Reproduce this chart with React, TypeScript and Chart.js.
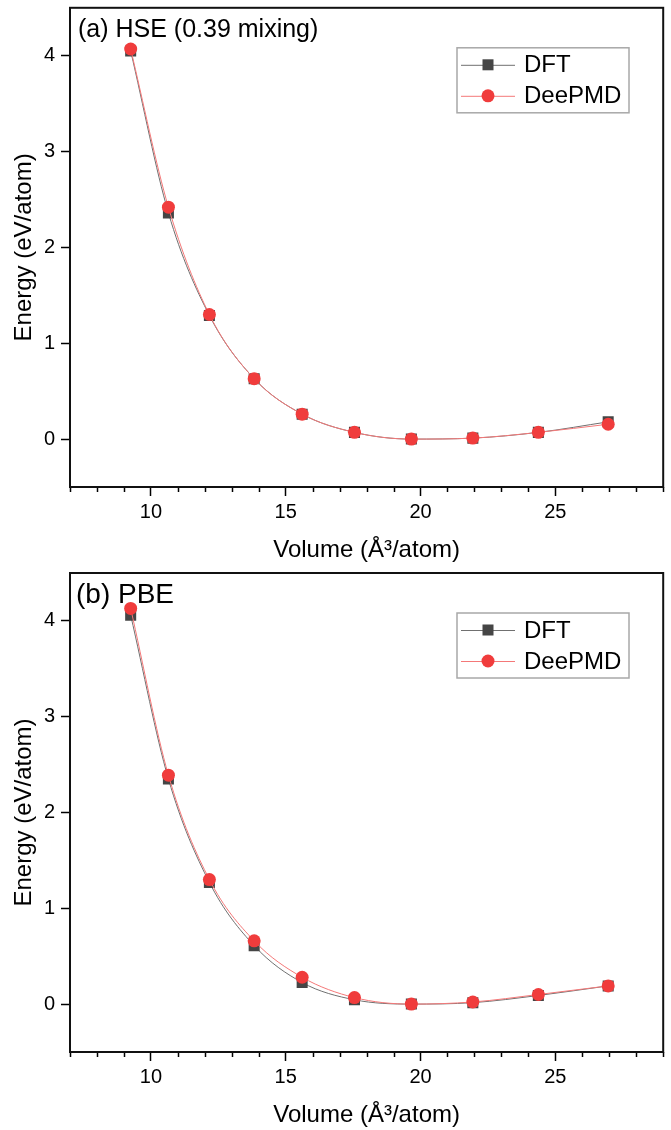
import React, { useEffect, useRef } from "react";
import { Chart, registerables } from "chart.js";

Chart.register(...registerables);

// ---- data ----
const volumes = [9.25, 10.65, 12.17, 13.83, 15.61, 17.55, 19.66, 21.94, 24.37, 26.96];
const hseDFT = [4.05, 2.36, 1.29, 0.63, 0.26, 0.07, 0.0, 0.01, 0.07, 0.18];
const hseDeePMD = [4.07, 2.42, 1.3, 0.63, 0.26, 0.07, 0.0, 0.01, 0.07, 0.155];
const pbeDFT = [4.06, 2.35, 1.27, 0.61, 0.225, 0.045, 0.0, 0.015, 0.09, 0.19];
const pbeDeePMD = [4.13, 2.39, 1.3, 0.66, 0.28, 0.068, 0.0, 0.022, 0.1, 0.19];
const xMajorTicks = [10, 15, 20, 25];
const xMinorTicks = [7, 8, 9, 11, 12, 13, 14, 16, 17, 18, 19, 21, 22, 23, 24, 26, 27, 28, 29];
const yTicks = [0, 1, 2, 3, 4];
const panelTitles = ["(a) HSE (0.39 mixing)", "(b) PBE"];
const seriesNames = ["DFT", "DeePMD"];
const xTitle = "Volume (Å³/atom)";
const yTitle = "Energy (eV/atom)";

const FONT = "'Liberation Sans', Arial, Helvetica, sans-serif";
const DFT_POINT = "#454545";
const DFT_LINE = "#707070";
const DP_POINT = "#f03c3c";
const DP_LINE = "#f47878";

type PanelProps = {
  title: string;
  dft: number[];
  deep: number[];
  padTop: number;
  titleSize: number;
  titleX: number;
  titleBaseline: number;
};

function Panel({ title, dft, deep, padTop, titleSize, titleX, titleBaseline }: PanelProps) {
  const ref = useRef<HTMLCanvasElement | null>(null);

  useEffect(() => {
    if (!ref.current) return;
    const decor = {
      id: "decor",
      afterDraw(chart: any) {
        const { ctx, chartArea: ca, scales } = chart;
        ctx.save();
        // minor x ticks
        ctx.strokeStyle = "#000";
        ctx.lineWidth = 1.5;
        for (const v of xMinorTicks) {
          const px = Math.round(scales.x.getPixelForValue(v)) + 0.5;
          ctx.beginPath();
          ctx.moveTo(px, ca.bottom);
          ctx.lineTo(px, ca.bottom + 5);
          ctx.stroke();
        }
        // frame
        ctx.strokeStyle = "#111";
        ctx.lineWidth = 2;
        ctx.strokeRect(ca.left, ca.top, ca.right - ca.left, ca.bottom - ca.top);

        // panel title
        ctx.fillStyle = "#000";
        ctx.font = `${titleSize}px ${FONT}`;
        ctx.textBaseline = "alphabetic";
        ctx.textAlign = "left";
        ctx.fillText(title, titleX, titleBaseline);

        // legend
        const lx = ca.left + 387;
        const ly = ca.top + 40;
        ctx.strokeStyle = "#a8a8a8";
        ctx.lineWidth = 1.5;
        ctx.strokeRect(lx, ly, 172, 65);
        const rows = [ly + 17, ly + 48];
        ctx.font = `24px ${FONT}`;
        ctx.textBaseline = "middle";
        rows.forEach((ry, i) => {
          ctx.strokeStyle = i === 0 ? DFT_LINE : DP_LINE;
          ctx.lineWidth = 1;
          ctx.beginPath();
          ctx.moveTo(lx + 4, ry + 0.5);
          ctx.lineTo(lx + 58, ry + 0.5);
          ctx.stroke();
          if (i === 0) {
            ctx.fillStyle = DFT_POINT;
            ctx.fillRect(lx + 31 - 5.5, ry - 5.5, 11, 11);
          } else {
            ctx.fillStyle = DP_POINT;
            ctx.beginPath();
            ctx.arc(lx + 31, ry, 6.5, 0, Math.PI * 2);
            ctx.fill();
          }
          ctx.fillStyle = "#000";
          ctx.fillText(seriesNames[i], lx + 67, ry + 1);
        });
        ctx.restore();
      },
    };

    const chart = new Chart(ref.current, {
      type: "line",
      data: {
        datasets: [
          {
            label: seriesNames[0],
            data: volumes.map((v, i) => ({ x: v, y: dft[i] })),
            borderColor: DFT_LINE,
            borderWidth: 1,
            backgroundColor: DFT_POINT,
            pointStyle: "rect",
            pointRadius: 7.8,
            pointBorderWidth: 0,
            cubicInterpolationMode: "monotone",
            order: 1,
          },
          {
            label: seriesNames[1],
            data: volumes.map((v, i) => ({ x: v, y: deep[i] })),
            borderColor: DP_LINE,
            borderWidth: 1,
            backgroundColor: DP_POINT,
            pointStyle: "circle",
            pointRadius: 6.5,
            pointBorderWidth: 0,
            cubicInterpolationMode: "monotone",
            order: 0,
          },
        ],
      },
      options: {
        responsive: false,
        animation: false,
        devicePixelRatio: 1,
        layout: { padding: { left: 0, right: 5, top: padTop, bottom: 0 } },
        plugins: { legend: { display: false }, tooltip: { enabled: false } },
        scales: {
          x: {
            type: "linear",
            min: 7,
            max: 29,
            afterBuildTicks: (s: any) => {
              s.ticks = xMajorTicks.map((v) => ({ value: v }));
            },
            afterFit: (s: any) => {
              s.height = 78;
              s.paddingLeft = 0;
              s.paddingRight = 0;
              s.paddingTop = 0;
              s.paddingBottom = 0;
            },
            grid: {
              display: true,
              drawOnChartArea: false,
              drawTicks: true,
              tickLength: 9,
              tickWidth: 1.5,
              tickColor: "#000",
            },
            border: { display: false },
            ticks: {
              color: "#000",
              font: { family: FONT, size: 20 },
              padding: 4,
              maxRotation: 0,
              autoSkip: false,
            },
            title: {
              display: true,
              text: xTitle,
              color: "#000",
              font: { family: FONT, size: 24 },
              padding: { top: 0, bottom: 0 },
            },
          },
          y: {
            type: "linear",
            min: -0.5,
            max: 4.5,
            afterBuildTicks: (s: any) => {
              s.ticks = yTicks.map((v) => ({ value: v }));
            },
            afterFit: (s: any) => {
              s.width = 70;
              s.paddingLeft = 0;
              s.paddingRight = 0;
              s.paddingTop = 0;
              s.paddingBottom = 0;
            },
            grid: {
              display: true,
              drawOnChartArea: false,
              drawTicks: true,
              tickLength: 9,
              tickWidth: 1.5,
              tickColor: "#000",
            },
            border: { display: false },
            ticks: {
              color: "#000",
              font: { family: FONT, size: 20 },
              padding: 6,
              autoSkip: false,
            },
            title: {
              display: true,
              text: yTitle,
              color: "#000",
              font: { family: FONT, size: 24 },
              padding: { top: 10, bottom: 0 },
            },
          },
        },
      },
      plugins: [decor],
    } as any);
    return () => chart.destroy();
  }, [title, dft, deep, padTop, titleSize, titleX, titleBaseline]);

  return <canvas ref={ref} width={671} height={565} style={{ display: "block", width: 671, height: 565 }} />;
}

export default function App() {
  return (
    <div style={{ position: "absolute", left: 0, top: 0, width: 671, height: 1130, background: "#fff" }}>
      <Panel title={panelTitles[0]} dft={hseDFT} deep={hseDeePMD} padTop={7} titleSize={25} titleX={78} titleBaseline={37} />
      <Panel title={panelTitles[1]} dft={pbeDFT} deep={pbeDeePMD} padTop={8} titleSize={28} titleX={76} titleBaseline={38} />
    </div>
  );
}
